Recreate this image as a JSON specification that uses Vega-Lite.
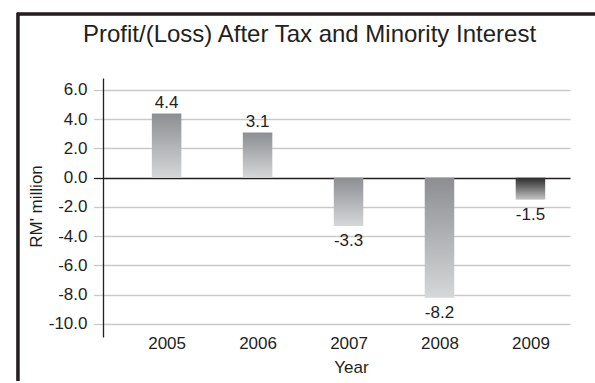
{
  "$schema": "https://vega.github.io/schema/vega-lite/v6.json",
  "autosize": "none",
  "width": 620,
  "height": 400,
  "padding": {"left": 11, "top": 14, "right": -36, "bottom": -33},
  "background": "white",
  "config": {
    "font": "Liberation Sans",
    "locale": {"number": {"decimal": ".", "thousands": ",", "grouping": [3], "currency": ["$", ""], "minus": "-"}},
    "view": {"stroke": null, "fill": "white"}
  },
  "title": {
    "text": "Profit/(Loss) After Tax and Minority Interest",
    "font": "Liberation Sans",
    "fontSize": 24,
    "fontWeight": "normal",
    "color": "#231f20",
    "anchor": "start",
    "frame": "group",
    "baseline": "alphabetic",
    "offset": 0,
    "dy": 53,
    "dx": 72
  },
  "data": {
    "values": [
      {"year": 2005, "value": 4.4},
      {"year": 2006, "value": 3.1},
      {"year": 2007, "value": -3.3},
      {"year": 2008, "value": -8.2},
      {"year": 2009, "value": -1.5}
    ]
  },
  "encoding": {
    "x": {
      "field": "year",
      "type": "quantitative",
      "scale": {"domain": [2004.3556, 2009.3798], "range": [92, 559], "nice": false, "zero": false},
      "axis": {
        "values": [2005, 2006, 2007, 2008, 2009],
        "format": "d",
        "offset": -79,
        "ticks": false,
        "tickSize": 0,
        "domain": false,
        "grid": false,
        "labelFlush": false,
        "labelPadding": 0,
        "labelFont": "Liberation Sans",
        "labelFontSize": 17,
        "labelColor": "#231f20",
        "title": "Year",
        "titleX": 340,
        "titleY": 37.7,
        "titleBaseline": "alphabetic",
        "titleAlign": "center",
        "titleFont": "Liberation Sans",
        "titleFontSize": 17,
        "titleFontWeight": "normal",
        "titleColor": "#231f20"
      }
    },
    "y": {
      "field": "value",
      "type": "quantitative",
      "scale": {"domain": [-10.89, 6.82], "range": [323, 64], "nice": false, "zero": false},
      "axis": {
        "values": [-10, -8, -6, -4, -2, 0, 2, 4, 6],
        "format": ".1f",
        "offset": -92,
        "labelFont": "Liberation Sans",
        "labelFontSize": 17,
        "labelColor": "#231f20",
        "labelPadding": 6.5,
        "tickSize": 9.5,
        "tickWidth": 1.3,
        "tickColor": {"condition": {"test": "datum.value === 0", "value": "#231f20"}, "value": "#c9c9c9"},
        "domainColor": "#231f20",
        "domainWidth": 1.3,
        "grid": true,
        "gridColor": {"condition": {"test": "datum.value === 0", "value": "#231f20"}, "value": "#c9c9c9"},
        "gridWidth": {"condition": {"test": "datum.value === 0", "value": 1.7}, "value": 1.3},
        "title": "RM' million",
        "titleAngle": -90,
        "titleX": -62,
        "titleY": 192,
        "titleBaseline": "alphabetic",
        "titleAlign": "center",
        "titleFont": "Liberation Sans",
        "titleFontSize": 17,
        "titleFontWeight": "normal",
        "titleColor": "#231f20"
      }
    }
  },
  "layer": [
    {
      "mark": {"type": "rect", "filled": false, "stroke": "#231f20", "strokeWidth": 2.5},
      "encoding": {
        "x": {"datum": 2003.3658, "type": "quantitative"},
        "x2": {"datum": 2011},
        "y": {"datum": 11.196, "type": "quantitative"},
        "y2": {"datum": -20}
      }
    },
    {
      "transform": [{"filter": "datum.year !== 2009"}],
      "mark": {
        "type": "bar",
        "size": 29.5,
        "color": {
          "gradient": "linear",
          "x1": 0, "y1": 0, "x2": 0, "y2": 1,
          "stops": [
            {"offset": 0, "color": "#8c8e91"},
            {"offset": 1, "color": "#d6d7d9"}
          ]
        }
      },
      "encoding": {"y2": {"datum": 0}}
    },
    {
      "transform": [{"filter": "datum.year === 2009"}],
      "mark": {
        "type": "bar",
        "size": 29.5,
        "color": {
          "gradient": "linear",
          "x1": 0, "y1": 0, "x2": 0, "y2": 1,
          "stops": [
            {"offset": 0, "color": "#2b2b2b"},
            {"offset": 1, "color": "#c4c4c4"}
          ]
        }
      },
      "encoding": {"y2": {"datum": 0}}
    },
    {
      "transform": [{"filter": "datum.value > 0"}],
      "mark": {"type": "text", "baseline": "alphabetic", "dy": -5, "fontSize": 17, "font": "Liberation Sans", "color": "#231f20"},
      "encoding": {"text": {"field": "value", "type": "quantitative", "format": ".1f"}}
    },
    {
      "transform": [{"filter": "datum.value < 0"}],
      "mark": {"type": "text", "baseline": "top", "dy": 7, "fontSize": 17, "font": "Liberation Sans", "color": "#231f20"},
      "encoding": {"text": {"field": "value", "type": "quantitative", "format": ".1f"}}
    }
  ]
}
